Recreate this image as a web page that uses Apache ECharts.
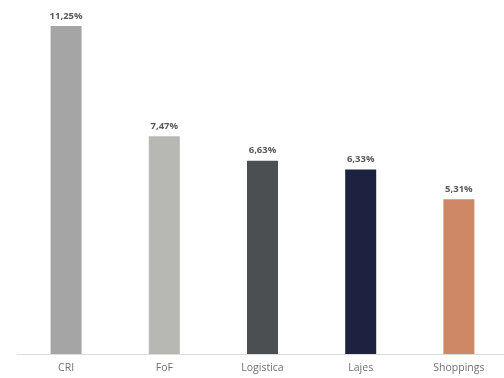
<!DOCTYPE html>
<html>
<head>
<meta charset="utf-8">
<script src="https://cdn.jsdelivr.net/npm/echarts@6/dist/echarts.min.js"></script>
<style>
  html, body { margin: 0; padding: 0; background: #fff; }
  #main { width: 504px; height: 378px; }
</style>
</head>
<body>
<div id="main"></div>
<script>
var categories = ['CRI', 'FoF', 'Logistica', 'Lajes', 'Shoppings'];
var values = [11.25, 7.47, 6.63, 6.33, 5.31];
var barColors = ['#a5a5a5', '#b7b7b3', '#4b4f51', '#1d2240', '#cf8865'];

var myChart = echarts.init(document.getElementById('main'));

var option = {
    animation: false,
    grid: { left: 17, top: 4, width: 491, bottom: 24, outerBoundsMode: 'none', containLabel: false },
    xAxis: {
        type: 'category',
        data: categories,
        axisLine: { lineStyle: { color: '#dcdcdc', width: 1 } },
        axisTick: { show: false },
        axisLabel: {
            color: '#707070',
            fontFamily: 'Open Sans',
            fontSize: 10.5,
            margin: 9
        }
    },
    yAxis: {
        type: 'value',
        min: 0,
        max: 12,
        show: false
    },
    series: [{
        type: 'bar',
        barWidth: 31,
        data: values.map(function (v, i) {
            return { value: v, itemStyle: { color: barColors[i] } };
        }),
        label: {
            show: true,
            position: 'top',
            distance: 5,
            color: '#595959',
            fontFamily: 'Open Sans',
            fontWeight: 'bold',
            fontSize: 9.5,
            formatter: function (p) {
                return p.value.toFixed(2).replace('.', ',') + '%';
            }
        }
    }]
};

myChart.setOption(option);
</script>
</body>
</html>
